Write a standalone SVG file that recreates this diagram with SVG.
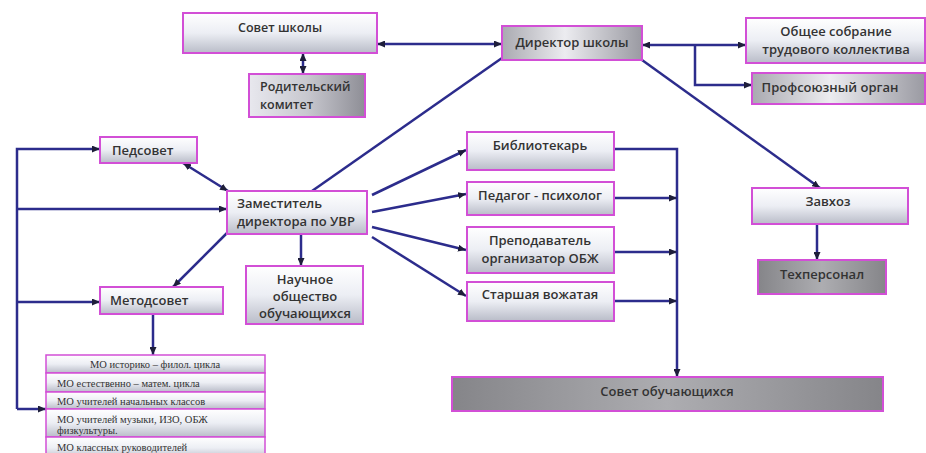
<svg xmlns="http://www.w3.org/2000/svg" width="926" height="453" viewBox="0 0 926 453">
<defs>
<linearGradient id="gLight" x1="0" y1="0" x2="0" y2="1">
<stop offset="0" stop-color="#ffffff"/><stop offset="0.5" stop-color="#eceef4"/><stop offset="1" stop-color="#b9bcc8"/>
</linearGradient>
<linearGradient id="gMid" x1="0" y1="0" x2="1" y2="0">
<stop offset="0" stop-color="#a9a9b0"/><stop offset="0.45" stop-color="#ececf0"/><stop offset="1" stop-color="#9a9aa2"/>
</linearGradient>
<linearGradient id="gRod" x1="0" y1="0" x2="1" y2="0">
<stop offset="0" stop-color="#e8e8ee"/><stop offset="0.5" stop-color="#c8c8cf"/><stop offset="1" stop-color="#8e8e96"/>
</linearGradient>
<linearGradient id="gDark" x1="0" y1="0" x2="1" y2="0">
<stop offset="0" stop-color="#858589"/><stop offset="0.5" stop-color="#adadb1"/><stop offset="1" stop-color="#858589"/>
</linearGradient>
<marker id="ah" viewBox="0 0 8 7" refX="8" refY="3.5" markerWidth="8" markerHeight="7" markerUnits="userSpaceOnUse" orient="auto-start-reverse">
<path d="M0,0 L8,3.5 L0,7 z" fill="#1e1e3a"/>
</marker>
<style>
.box{stroke:#d24fd6;stroke-width:2;fill:url(#gLight)}
.mid{fill:url(#gMid)}
.rod{fill:url(#gRod)}
.dark{fill:url(#gDark)}
.t{font-family:"Open Sans","Noto Sans",sans-serif;font-size:13px;font-weight:600;fill:#333}
.s{font-size:12.5px}
.c{text-anchor:middle}
.mo{font-family:"Liberation Serif",serif;font-size:10.5px;fill:#333}
.row{stroke:#d24fd6;stroke-width:1.5;fill:url(#gLight)}
.ln{stroke:#2c2c8c;stroke-width:2.5;fill:none}
.a{marker-end:url(#ah)}
.b{marker-start:url(#ah);marker-end:url(#ah)}
</style>
</defs>
<rect width="926" height="453" fill="#ffffff"/>
<g id="connectors">
<path class="ln b" d="M377,44 H502"/>
<path class="ln b" d="M303,53 V74"/>
<path class="ln b" d="M642,45 H746"/>
<path class="ln a" d="M695,45 V85 H752"/>
<path class="ln a" d="M642,60 L820,188"/>
<path class="ln" d="M502,58 L312,191"/>
<path class="ln b" d="M183,163 L228,191"/>
<path class="ln a" d="M17,409 V149 H100"/>
<path class="ln a" d="M17,409 H46"/>
<path class="ln a" d="M17,209 H227"/>
<path class="ln a" d="M17,302 H100"/>
<path class="ln a" d="M227,233 L173,287"/>
<path class="ln a" d="M301,234 V266"/>
<path class="ln a" d="M153,314 V355"/>
<path class="ln a" d="M372,195 L466,150"/>
<path class="ln a" d="M372,212 L466,194"/>
<path class="ln a" d="M372,227 L466,250"/>
<path class="ln a" d="M372,237 L466,296"/>
<path class="ln a" d="M614,149 H677 V377"/>
<path class="ln a" d="M614,198 H677"/>
<path class="ln a" d="M614,252 H677"/>
<path class="ln a" d="M614,301 H677"/>
<path class="ln a" d="M817,224 V260"/>
</g>
<g id="sovet-shkoly"><rect class="box" x="183" y="13" width="194" height="40"/><text class="t s c" x="280" y="32">Совет школы</text></g>
<g id="roditelsky"><rect class="box rod" x="249" y="74" width="116" height="43"/><text class="t s" x="260" y="91">Родительский</text><text class="t s" x="260" y="109">комитет</text></g>
<g id="direktor"><rect class="box mid" x="502" y="26" width="140" height="34"/><text class="t c" x="572" y="47">Директор школы</text></g>
<g id="obshee"><rect class="box" x="746" y="18" width="179" height="45"/><text class="t c" x="836" y="36">Общее собрание</text><text class="t c" x="836" y="54">трудового коллектива</text></g>
<g id="profsoyuz"><rect class="box mid" x="752" y="73" width="173" height="31"/><text class="t c" x="830" y="92">Профсоюзный орган</text></g>
<g id="pedsovet"><rect class="box" x="100" y="137" width="97" height="26"/><text class="t" x="112" y="155">Педсовет</text></g>
<g id="zam"><rect class="box" x="227" y="191" width="140" height="43"/><text class="t" x="237" y="208">Заместитель</text><text class="t" x="237" y="226">директора по УВР</text></g>
<g id="metodsovet"><rect class="box" x="100" y="287" width="123" height="27"/><text class="t" x="110" y="305">Методсовет</text></g>
<g id="nauchnoe"><rect class="box" x="246" y="266" width="117" height="58"/><text class="t c" x="305" y="284">Научное</text><text class="t c" x="305" y="301">общество</text><text class="t c" x="305" y="318">обучающихся</text></g>
<g id="bibliotekar"><rect class="box" x="467" y="132" width="147" height="38"/><text class="t c" x="540" y="150">Библиотекарь</text></g>
<g id="pedagog"><rect class="box" x="467" y="182" width="147" height="33"/><text class="t c" x="540" y="200">Педагог - психолог</text></g>
<g id="prepodavatel"><rect class="box" x="467" y="227" width="147" height="46"/><text class="t c" x="540" y="245">Преподаватель</text><text class="t c" x="540" y="263">организатор ОБЖ</text></g>
<g id="starshaya"><rect class="box" x="467" y="282" width="147" height="39"/><text class="t c" x="540" y="299">Старшая вожатая</text></g>
<g id="zavhoz"><rect class="box" x="752" y="188" width="156" height="36"/><text class="t c" x="828" y="206">Завхоз</text></g>
<g id="tehpersonal"><rect class="box dark" x="758" y="260" width="128" height="34"/><text class="t c" x="822" y="279">Техперсонал</text></g>
<g id="sovet-obuch"><rect class="box dark" x="452" y="377" width="431" height="34"/><text class="t c" x="667" y="396">Совет обучающихся</text></g>
<g id="mo-table">
<rect class="row" x="46" y="355" width="219" height="18"/>
<rect class="row" x="46" y="373" width="219" height="19"/>
<rect class="row" x="46" y="392" width="219" height="17"/>
<rect class="row" x="46" y="409" width="219" height="28"/>
<rect class="row" x="46" y="437" width="219" height="22"/>
<text class="mo c" x="155" y="368">МО историко – филол. цикла</text>
<text class="mo" x="57" y="387">МО естественно – матем. цикла</text>
<text class="mo" x="57" y="405">МО учителей начальных классов</text>
<text class="mo" x="57" y="423">МО учителей музыки, ИЗО, ОБЖ</text>
<text class="mo" x="57" y="434">физкультуры.</text>
<text class="mo" x="57" y="451">МО классных руководителей</text>
</g>
</svg>
